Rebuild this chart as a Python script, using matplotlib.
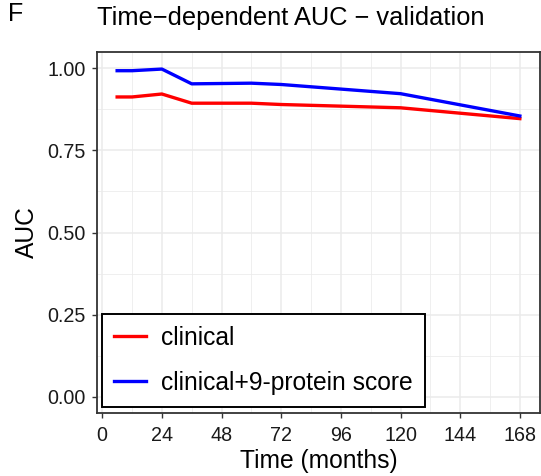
import matplotlib
matplotlib.use("Agg")
import matplotlib.pyplot as plt

plt.rcParams['font.family'] = ['Liberation Sans', 'DejaVu Sans']

time_months = [6, 12, 24, 36, 60, 72, 120, 168]
auc_clinical = [0.913, 0.913, 0.922, 0.894, 0.894, 0.890, 0.880, 0.847]
auc_combined = [0.993, 0.993, 0.998, 0.953, 0.955, 0.951, 0.923, 0.855]
series_labels = ["clinical", "clinical+9-protein score"]
x_ticks = [0, 24, 48, 72, 96, 120, 144, 168]
y_ticks = [0.00, 0.25, 0.50, 0.75, 1.00]

fig = plt.figure(figsize=(5.41, 4.76), dpi=100)
ax = fig.add_axes([97/541, 1-413/476, 443/541, 361/476])

ax.set_xlim(-2.1, 176.1)
ax.set_ylim(-0.05, 1.05)

# grid
for x in x_ticks:
    ax.axvline(x, color='#EBEBEB', lw=1.1, zorder=0)
for x in [12, 36, 60, 84, 108, 132, 156]:
    ax.axvline(x, color='#EBEBEB', lw=0.55, zorder=0)
for y in y_ticks:
    ax.axhline(y, color='#EBEBEB', lw=1.1, zorder=0)
for y in [0.125, 0.375, 0.625, 0.875]:
    ax.axhline(y, color='#EBEBEB', lw=0.55, zorder=0)

ax.plot(time_months, auc_clinical, color='#FF0000', lw=2.4, label=series_labels[0], zorder=3)
ax.plot(time_months, auc_combined, color='#0000FF', lw=2.4, label=series_labels[1], zorder=3)

ax.set_xticks(x_ticks)
ax.set_yticks(y_ticks)
ax.set_yticklabels([f"{v:.2f}" for v in y_ticks])
ax.tick_params(axis='both', direction='out', length=3.6, width=1, color='#333333',
               labelsize=14.2, labelcolor='#1A1A1A')
ax.tick_params(axis='y', pad=4.5)
ax.tick_params(axis='x', pad=6)
for s in ax.spines.values():
    s.set_color('#333333')
    s.set_linewidth(1.3)

ax.set_xlabel("Time (months)", fontsize=17.7, labelpad=2.5)
ax.set_ylabel("AUC", fontsize=17.7, labelpad=6)

fig.text(97/541, 1-18/476, "Time\u2212dependent AUC \u2212 validation", fontsize=18.3,
         ha='left', va='center')
fig.text(8/541, 1-14/476, "F", fontsize=18, ha='left', va='center')

leg = ax.legend(loc='lower left', bbox_to_anchor=(0.0106, 0.0166), fontsize=17.7,
                frameon=True, fancybox=False, edgecolor='black', handlelength=1.3,
                handletextpad=0.6, labelspacing=0.85, borderpad=0.5, borderaxespad=0)
leg.get_frame().set_linewidth(1.4)
leg.get_frame().set_alpha(1)

fig.savefig("out.png", dpi=100)
